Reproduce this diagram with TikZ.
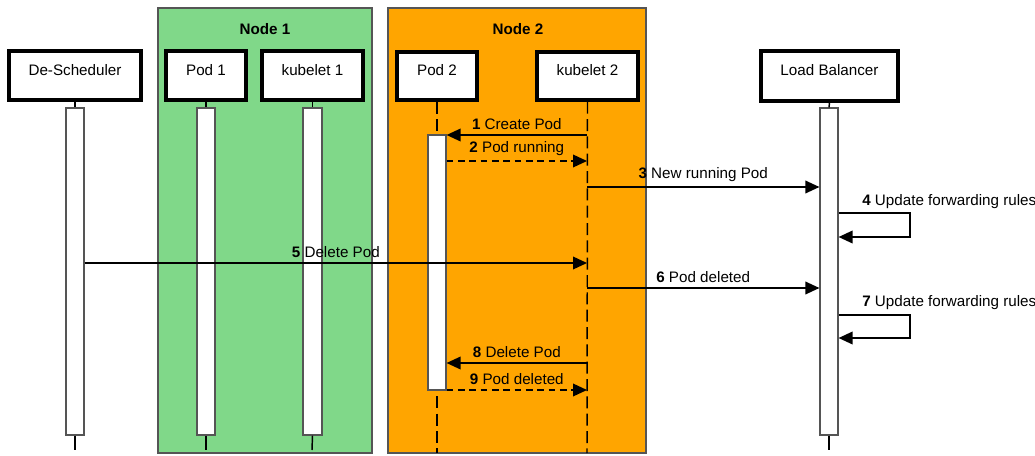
\documentclass[tikz,border=0pt]{standalone}
\usepackage{fontspec}
\setmainfont{Liberation Sans}
\usetikzlibrary{arrows.meta,fit}
\definecolor{nodegreen}{HTML}{80D889}
\definecolor{nodeorange}{HTML}{FFA500}
\definecolor{edgegray}{HTML}{555555}
\begin{document}
\begin{tikzpicture}[x=0.75pt,y=-0.75pt,
  font=\fontsize{11.4}{13.5}\selectfont,
  group/.style={draw=edgegray,line width=0.8pt,inner sep=0pt},
  grouptitle/.style={font=\fontsize{11.4}{13.5}\selectfont\bfseries},
  part/.style={draw=black,fill=white,line width=2.6pt,inner sep=0pt},
  act/.style={draw=edgegray,fill=white,line width=0.9pt,inner sep=0pt},
  life/.style={line width=1.1pt},
  dlife/.style={line width=1.1pt,dash pattern=on 9pt off 4pt},
  msg/.style={line width=1.1pt,-{Triangle[length=10.5pt,width=9.5pt]}},
  reply/.style={msg,dash pattern=on 5pt off 3.5pt},
  lbl/.style={above=2.5pt,inner sep=1pt}]
\useasboundingbox (0,0) rectangle (1035,456);

% node groups
\node[group,fill=nodegreen,fit={(158,8) (372,453)}] (node1) {};
\node[group,fill=nodeorange,fit={(388,8) (646,453)}] (node2) {};
\node[grouptitle] (node1t) at (265,29) {Node 1};
\node[grouptitle] (node2t) at (518,29) {Node 2};

% participants
\node[part,fit={(9,51) (141,100)}] (desch) {De-Scheduler};
\node[part,fit={(166,51) (246,100)}] (pod1) {Pod 1};
\node[part,fit={(262,51) (363,100)}] (kub1) {kubelet 1};
\node[part,fit={(397,52) (477,100)}] (pod2) {Pod 2};
\node[part,fit={(537,52) (638,100)}] (kub2) {kubelet 2};
\node[part,fit={(761,51) (898,101)}] (lb) {Load Balancer};

% lifeline ends
\coordinate (deschE) at (75,450);
\coordinate (pod1E) at (206,450);
\coordinate (kub1E) at (312,450);
\coordinate (pod2E) at (437,453);
\coordinate (kub2E) at (587,453);
\coordinate (lbE) at (829,450);

% dashed lifelines of node 2
\draw[dlife] (pod2.south) -- (pod2E);
\draw[dlife] (kub2.south) -- (kub2E);

% activations
\node[act,fit={(66,108) (84,435)}] (deschA) {};
\node[act,fit={(197,108) (215,435)}] (pod1A) {};
\node[act,fit={(303,108) (322,435)}] (kub1A) {};
\node[act,fit={(428,135) (446,390)}] (pod2A) {};
\node[act,fit={(820,108) (838,435)}] (lbA) {};

\draw[life] (desch.south) -- (deschA.north);
\draw[life] (deschA.south) -- (deschE);
\draw[life] (pod1.south) -- (pod1A.north);
\draw[life] (pod1A.south) -- (pod1E);
\draw[life] (kub1.south) -- (kub1A.north);
\draw[life] (kub1A.south) -- (kub1E);
\draw[life] (lb.south) -- (lbA.north);
\draw[life] (lbA.south) -- (lbE);

% message points on the kubelet 2 lifeline
\coordinate (m1) at (587,135);
\coordinate (m2) at (587,161);
\coordinate (m3) at (587,187);
\coordinate (m5) at (587,263);
\coordinate (m6) at (587,288);
\coordinate (m8) at (587,363);
\coordinate (m9) at (587,390);

% self-call loops on the load balancer
\coordinate (l4a) at (910,213);
\coordinate (l4b) at (910,237);
\coordinate (l7a) at (910,315);
\coordinate (l7b) at (910,338);

% messages
\draw[msg] (m1) -- (pod2A.east |- m1) node[midway,lbl] {\textbf{1} Create Pod};
\draw[reply] (pod2A.east |- m2) -- (m2) node[midway,lbl] {\textbf{2} Pod running};
\draw[msg] (m3) -- (lbA.west |- m3) node[midway,lbl] {\textbf{3} New running Pod};
\draw[msg] (lbA.east |- l4a) -- (l4a) -- (l4b) -- (lbA.east |- l4b);
\node[anchor=west,inner sep=0pt] (t4) at (862,202) {\textbf{4} Update forwarding rules};
\draw[msg] (deschA.east |- m5) -- (m5) node[midway,lbl] {\textbf{5} Delete Pod};
\draw[msg] (m6) -- (lbA.west |- m6) node[midway,lbl] {\textbf{6} Pod deleted};
\draw[msg] (lbA.east |- l7a) -- (l7a) -- (l7b) -- (lbA.east |- l7b);
\node[anchor=west,inner sep=0pt] (t7) at (862,303) {\textbf{7} Update forwarding rules};
\draw[msg] (m8) -- (pod2A.east |- m8) node[midway,lbl] {\textbf{8} Delete Pod};
\draw[reply] (pod2A.east |- m9) -- (m9) node[midway,lbl] {\textbf{9} Pod deleted};
\end{tikzpicture}
\end{document}
